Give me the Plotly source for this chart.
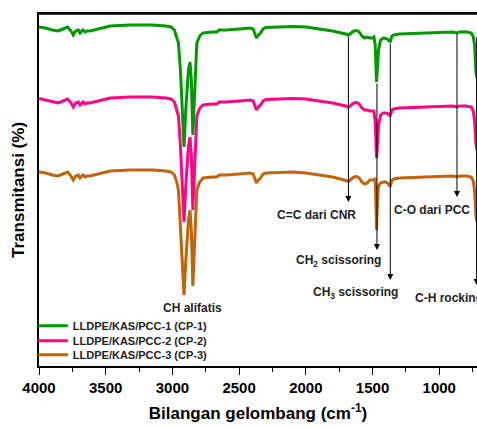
import plotly.graph_objects as go

# Wavenumbers (cm-1)
wavenumber = [4000, 3950, 3900, 3857, 3820, 3785, 3760, 3743, 3725, 3705, 3692, 3680, 3670, 3655, 3640, 3617,
              3560, 3467, 3317, 3150, 3050, 3010, 2985, 2970, 2955, 2940, 2925, 2913, 2900, 2880, 2868, 2858,
              2847, 2835, 2817, 2795, 2770, 2700, 2667, 2650, 2600, 2500, 2417, 2395, 2385, 2370, 2355, 2340,
              2320, 2300, 2200, 2100, 2000, 1900, 1800, 1700, 1680, 1660, 1640, 1620, 1600, 1580, 1560, 1540,
              1520, 1500, 1490, 1480, 1470, 1462, 1455, 1440, 1420, 1400, 1380, 1367, 1355, 1340, 1300, 1200,
              1100, 1000, 900, 867, 850, 800, 760, 745, 735, 725, 717]

# Transmittance (arbitrary, stacked/offset units)
cp1 = [339, 338, 336, 335, 337, 339, 335, 331, 335, 336, 333, 335, 336, 334, 335, 335,
       337, 340, 341, 341, 340, 339, 336, 330, 323, 296, 246, 219, 256, 296, 304, 286,
       231, 276, 323, 330, 333, 334, 334, 336, 336, 337, 338, 337, 333, 328, 331, 333,
       337, 338.5, 339, 339.5, 339, 337, 335, 332, 331, 333, 335, 335.5, 334, 330, 328, 329,
       328, 328, 329, 321, 284, 301, 316, 326, 328, 327.5, 326, 324, 330, 331, 332, 332.5,
       333, 333.5, 334, 333, 334, 334.3, 333, 329.3, 321, 294, 288]

cp2 = [267.5, 266, 264, 263, 265, 267, 263, 259, 263, 264, 261, 263, 264, 262, 263, 263,
       265, 268, 269, 269, 268, 267, 264, 258, 250, 220, 168, 144, 180, 220, 229, 210,
       156, 200, 250, 258, 261, 262, 262, 264, 264, 265, 266, 265, 261, 256, 259, 261,
       265, 266.5, 267, 267.5, 267, 265, 263, 260, 258.5, 261, 263, 263.5, 262, 258, 256, 256,
       255, 255, 255, 245, 208, 225, 241, 251, 253, 253, 252, 250, 256, 257, 258, 258.5,
       259, 259.5, 260, 259, 260, 260, 259, 255, 245, 222, 216]

cp3 = [194, 193, 191, 190, 192, 194, 190, 186, 190, 191, 188, 190, 191, 189, 190, 190,
       192, 195, 196, 196, 195, 194, 191, 185, 176, 140, 95, 71, 105, 145, 156, 135,
       80, 125, 176, 184, 188, 189, 189, 191, 191, 192, 193, 192, 188, 183, 186, 188,
       192, 193, 193.5, 194, 193, 191, 189, 185.5, 184.3, 187, 189, 189.5, 188, 184, 182, 183,
       186, 186, 186, 188, 136, 168, 180, 183, 184, 184, 182, 179.3, 186, 187, 188, 188.5,
       189, 189.5, 190, 189, 190, 190, 189, 185, 175, 150, 144]

series_names = ["LLDPE/KAS/PCC-1 (CP-1)", "LLDPE/KAS/PCC-2 (CP-2)", "LLDPE/KAS/PCC-3 (CP-3)"]
series_colors = ["#009a00", "#ff0585", "#c0650a"]
legend_ids = ["legend", "legend2", "legend3"]
legend_rows = [0.114, 0.072, 0.032]

# Band annotations
band_labels = ["C=C dari CNR", "CH<sub>2</sub> scissoring", "CH<sub>3</sub> scissoring", "C-O dari PCC", "C-H rocking"]
band_wn = [1681, 1467, 1367, 867, 720]
band_start = [331, 284, 324, 334, 330]
band_tip = [164, 116, 86, 169, 81]
label_wn = [1922, 1757, 1630, 1052, 1195]
label_y = [151, 105, 73, 156, 68]
label_anchor = ["center", "center", "center", "center", "left"]

font_family = "Arial, Liberation Sans, sans-serif"

fig = go.Figure()
for name, vals, col, lid in zip(series_names, [cp1, cp2, cp3], series_colors, legend_ids):
    fig.add_trace(go.Scatter(x=wavenumber, y=vals, mode="lines", name="<b>" + name + "</b>",
                             line=dict(color=col, width=3), legend=lid))

for wn, y0, y1 in zip(band_wn, band_start, band_tip):
    fig.add_annotation(x=wn, y=y1, ax=wn, ay=y0, xref="x", yref="y", axref="x", ayref="y",
                       text="", showarrow=True, arrowhead=2, arrowsize=1.2, arrowwidth=1,
                       arrowcolor="black")

for lab, wn, y, anc in zip(band_labels, label_wn, label_y, label_anchor):
    fig.add_annotation(x=wn, y=y, xref="x", yref="y", text="<b>" + lab + "</b>", showarrow=False,
                       xanchor=anc, font=dict(family=font_family, size=12, color="#222"))

fig.add_annotation(x=2852, y=58, xref="x", yref="y", text="<b>CH alifatis</b>", showarrow=False,
                   font=dict(family=font_family, size=12, color="#222"))

# y-axis title
fig.add_annotation(x=-0.048, y=0.5, xref="paper", yref="paper", xanchor="center", yanchor="middle",
                   text="<b>Transmitansi (%)</b>", showarrow=False, textangle=-90,
                   font=dict(family=font_family, size=17, color="black"))

# top frame line
fig.add_shape(type="line", xref="paper", yref="paper", x0=0, x1=1, y0=1, y1=1,
              line=dict(color="black", width=1.5))

legend_common = dict(x=-0.014, xanchor="left", yanchor="middle", bgcolor="rgba(0,0,0,0)",
                     font=dict(family=font_family, size=11, color="#222"), itemwidth=30)

fig.update_layout(
    width=477, height=427,
    margin=dict(l=39, r=0, t=14, b=61, autoexpand=False),
    paper_bgcolor="white", plot_bgcolor="white",
    font=dict(family=font_family, color="black"),
    showlegend=True,
    legend=dict(y=legend_rows[0], **legend_common),
    legend2=dict(y=legend_rows[1], **legend_common),
    legend3=dict(y=legend_rows[2], **legend_common),
    xaxis=dict(range=[4000, 717], showgrid=False, zeroline=False, showline=True, linecolor="black",
               linewidth=1.5, mirror=True, ticks="outside", ticklen=7, tickwidth=1.2, tickcolor="black",
               automargin=False,
               tickmode="array", tickvals=[4000, 3500, 3000, 2500, 2000, 1500, 1000],
               ticktext=["<b>4000</b>", "<b>3500</b>", "<b>3000</b>", "<b>2500</b>", "<b>2000</b>", "<b>1500</b>", "<b>1000</b>"],
               tickfont=dict(family=font_family, size=15, color="black"),
               minor=dict(tickvals=[3750, 3250, 2750, 2250, 1750, 1250, 750], ticks="outside",
                          ticklen=4, tickwidth=1.2, tickcolor="black"),
               title=dict(text="<b>Bilangan gelombang (cm<sup>-1</sup>)</b>", standoff=12,
                          font=dict(family=font_family, size=17, color="black"))),
    yaxis=dict(range=[0, 352], showgrid=False, zeroline=False, showline=True, linecolor="black",
               linewidth=1.5, showticklabels=False, ticks="", automargin=False),
)

fig.write_html("out.html", config={"displayModeBar": False},
               post_script="document.body.style.margin='0px';document.body.style.overflow='hidden';")
